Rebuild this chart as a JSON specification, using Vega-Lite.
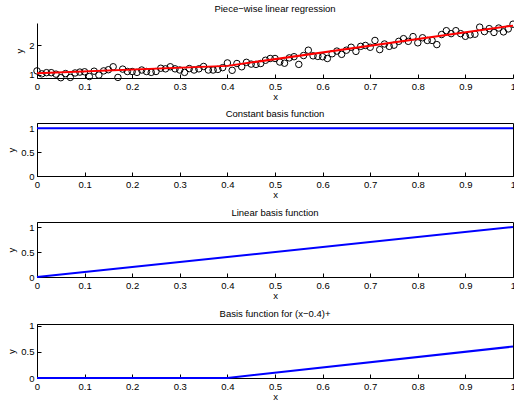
{
  "$schema": "https://vega.github.io/schema/vega-lite/v6.json",
  "padding": {"left": 6, "top": 4, "right": 0, "bottom": 0},
  "spacing": 7,
  "datasets": {
    "points": [
      {"x":0,"y":1.13},{"x":0.01,"y":1.03},{"x":0.02,"y":1.07},{"x":0.03,"y":1.07},{"x":0.04,"y":1.02},
      {"x":0.05,"y":0.9},{"x":0.06,"y":1.04},{"x":0.07,"y":0.91},{"x":0.08,"y":1.06},{"x":0.09,"y":1.09},
      {"x":0.1,"y":1.1},{"x":0.11,"y":0.94},{"x":0.12,"y":1.12},{"x":0.13,"y":0.99},{"x":0.14,"y":1.13},
      {"x":0.15,"y":1.17},{"x":0.16,"y":1.27},{"x":0.17,"y":0.91},{"x":0.18,"y":1.19},{"x":0.19,"y":1.11},
      {"x":0.2,"y":1.11},{"x":0.21,"y":1.08},{"x":0.22,"y":1.16},{"x":0.23,"y":1.11},{"x":0.24,"y":1.08},
      {"x":0.25,"y":1.11},{"x":0.26,"y":1.22},{"x":0.27,"y":1.2},{"x":0.28,"y":1.27},{"x":0.29,"y":1.2},
      {"x":0.3,"y":1.16},{"x":0.31,"y":1.08},{"x":0.32,"y":1.21},{"x":0.33,"y":1.16},{"x":0.34,"y":1.2},
      {"x":0.35,"y":1.28},{"x":0.36,"y":1.16},{"x":0.37,"y":1.16},{"x":0.38,"y":1.18},{"x":0.39,"y":1.24},
      {"x":0.4,"y":1.4},{"x":0.41,"y":1.15},{"x":0.42,"y":1.38},{"x":0.43,"y":1.27},{"x":0.44,"y":1.42},
      {"x":0.45,"y":1.36},{"x":0.46,"y":1.35},{"x":0.47,"y":1.38},{"x":0.48,"y":1.49},{"x":0.49,"y":1.55},
      {"x":0.5,"y":1.55},{"x":0.51,"y":1.43},{"x":0.52,"y":1.39},{"x":0.53,"y":1.57},{"x":0.54,"y":1.61},
      {"x":0.55,"y":1.35},{"x":0.56,"y":1.65},{"x":0.57,"y":1.83},{"x":0.58,"y":1.64},{"x":0.59,"y":1.62},
      {"x":0.6,"y":1.61},{"x":0.61,"y":1.55},{"x":0.62,"y":1.71},{"x":0.63,"y":1.8},{"x":0.64,"y":1.69},
      {"x":0.65,"y":1.83},{"x":0.66,"y":1.93},{"x":0.67,"y":1.79},{"x":0.68,"y":1.96},{"x":0.69,"y":1.99},
      {"x":0.7,"y":1.93},{"x":0.71,"y":2.16},{"x":0.72,"y":1.85},{"x":0.73,"y":2.04},{"x":0.74,"y":1.96},
      {"x":0.75,"y":2.0},{"x":0.76,"y":2.13},{"x":0.77,"y":2.22},{"x":0.78,"y":2.13},{"x":0.79,"y":2.29},
      {"x":0.8,"y":2.08},{"x":0.81,"y":2.25},{"x":0.82,"y":2.16},{"x":0.83,"y":2.16},{"x":0.84,"y":2.02},
      {"x":0.85,"y":2.36},{"x":0.86,"y":2.49},{"x":0.87,"y":2.39},{"x":0.88,"y":2.49},{"x":0.89,"y":2.39},
      {"x":0.9,"y":2.3},{"x":0.91,"y":2.35},{"x":0.92,"y":2.37},{"x":0.93,"y":2.61},{"x":0.94,"y":2.46},
      {"x":0.95,"y":2.56},{"x":0.96,"y":2.43},{"x":0.97,"y":2.58},{"x":0.98,"y":2.45},{"x":0.99,"y":2.55},
      {"x":1.0,"y":2.71}
    ],
    "fit": [{"x":0,"y":1.05},{"x":0.4,"y":1.3},{"x":1,"y":2.66}],
    "constant": [{"x":0,"y":1},{"x":1,"y":1}],
    "linear": [{"x":0,"y":0},{"x":1,"y":1}],
    "hinge": [{"x":0,"y":0},{"x":0.4,"y":0},{"x":1,"y":0.6}]
  },
  "vconcat": [
    {
      "width": 476, "height": 55,
      "title": {"text": "Piece\u2212wise linear regression"},
      "layer": [
        {
          "data": {"name": "points"},
          "mark": {"type": "point", "shape": "circle", "filled": false, "color": "black", "size": 42, "strokeWidth": 1, "opacity": 1},
          "encoding": {
            "x": {"field": "x", "type": "quantitative", "scale": {"domain": [0, 1], "nice": false}, "axis": {"title": "x", "values": [0,0.1,0.2,0.3,0.4,0.5,0.6,0.7,0.8,0.9,1], "format": "~g"}},
            "y": {"field": "y", "type": "quantitative", "scale": {"domain": [0.89, 2.75], "nice": false, "zero": false}, "axis": {"title": "y", "values": [1, 2], "format": "~g"}}
          }
        },
        {
          "data": {"name": "fit"},
          "mark": {"type": "line", "color": "red", "strokeWidth": 2},
          "encoding": {
            "x": {"field": "x", "type": "quantitative"},
            "y": {"field": "y", "type": "quantitative"}
          }
        }
      ]
    },
    {
      "width": 476, "height": 53,
      "view": {"stroke": "black", "strokeWidth": 1},
      "title": {"text": "Constant basis function"},
      "layer": [
        {
          "data": {"name": "constant"},
          "mark": {"type": "line", "color": "#0000ff", "strokeWidth": 2},
          "encoding": {
            "x": {"field": "x", "type": "quantitative", "scale": {"domain": [0, 1], "nice": false}, "axis": {"title": "x", "values": [0,0.1,0.2,0.3,0.4,0.5,0.6,0.7,0.8,0.9,1], "format": "~g"}},
            "y": {"field": "y", "type": "quantitative", "scale": {"domain": [0, 1.11], "nice": false}, "axis": {"title": "y", "values": [0, 0.5, 1], "format": "~g"}}
          }
        }
      ]
    },
    {
      "width": 476, "height": 55,
      "view": {"stroke": "black", "strokeWidth": 1},
      "title": {"text": "Linear basis function"},
      "layer": [
        {
          "data": {"name": "linear"},
          "mark": {"type": "line", "color": "#0000ff", "strokeWidth": 2},
          "encoding": {
            "x": {"field": "x", "type": "quantitative", "scale": {"domain": [0, 1], "nice": false}, "axis": {"title": "x", "values": [0,0.1,0.2,0.3,0.4,0.5,0.6,0.7,0.8,0.9,1], "format": "~g"}},
            "y": {"field": "y", "type": "quantitative", "scale": {"domain": [0, 1.1], "nice": false}, "axis": {"title": "y", "values": [0, 0.5, 1], "format": "~g"}}
          }
        }
      ]
    },
    {
      "width": 476, "height": 54,
      "view": {"stroke": "black", "strokeWidth": 1},
      "title": {"text": "Basis function for (x\u22120.4)+", "offset": 2},
      "layer": [
        {
          "data": {"name": "hinge"},
          "mark": {"type": "line", "color": "#0000ff", "strokeWidth": 2},
          "encoding": {
            "x": {"field": "x", "type": "quantitative", "scale": {"domain": [0, 1], "nice": false}, "axis": {"title": "x", "values": [0,0.1,0.2,0.3,0.4,0.5,0.6,0.7,0.8,0.9,1], "format": "~g"}},
            "y": {"field": "y", "type": "quantitative", "scale": {"domain": [0, 1.03], "nice": false}, "axis": {"title": "y", "values": [0, 0.5, 1], "format": "~g"}}
          }
        }
      ]
    }
  ],
  "config": {
    "font": "Liberation Sans",
    "view": {"stroke": null},
    "background": "white",
    "title": {"fontSize": 9.5, "fontWeight": "normal", "color": "black", "offset": 5, "font": "Liberation Sans"},
    "axis": {
      "grid": false,
      "domainColor": "black",
      "domainWidth": 1,
      "tickColor": "black",
      "tickWidth": 1,
      "tickSize": -4,
      "labelColor": "black",
      "labelFontSize": 9.5,
      "labelFont": "Liberation Sans",
      "titleColor": "black",
      "titleFontSize": 9.5,
      "titleFontWeight": "normal",
      "titleFont": "Liberation Sans",
      "labelFlush": false,
      "labelOverlap": false
    },
    "axisX": {"labelPadding": 7, "titlePadding": 1},
    "axisY": {"labelPadding": 7, "titlePadding": 4}
  }
}
